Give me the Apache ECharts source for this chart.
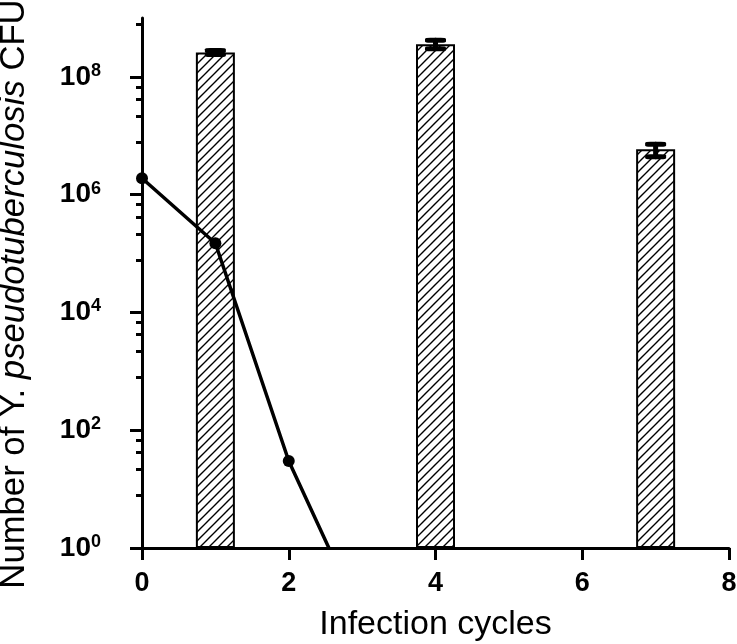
<!DOCTYPE html>
<html lang="en">
<head>
	<meta charset="UTF-8">
	<title>Infection cycles</title>
	<style>
		html, body { margin: 0; padding: 0; background: #fff; }
		#main { width: 737px; height: 644px; }
	</style>
</head>
<body>
	<div id="main"></div>

<script src="https://cdnjs.cloudflare.com/ajax/libs/echarts/6.0.0/echarts.min.js"></script>
<script>
	// bars: CFU recovered per cycle (mean, error range)
	var barCycles = [1, 4, 7];
	var barValues = [2.6e8, 3.6e8, 5.9e6];
	var barErrLow = [2.4e8, 3.0e8, 4.4e6];
	var barErrHigh = [2.8e8, 4.2e8, 7.2e6];

	// line: survivors, last point falls below the axis
	var lineCycles = [0, 1, 2, 3];
	var lineValues = [1.9e6, 1.5e5, 30, 0.06];

	var yMajorTicks = [1, 1e2, 1e4, 1e6, 1e8];
	var yMinorTicks = [
		7.8, 21.6, 42, 67.6,
		780, 2160, 4200, 6760,
		7.8e4, 2.16e5, 4.2e5, 6.76e5,
		7.8e6, 2.16e7, 4.2e7, 6.76e7,
		7.8e8
	];

	var font = '"Liberation Sans", Arial, sans-serif';
	var narrow = '"Liberation Sans Narrow", "Arial Narrow", "Liberation Sans", sans-serif';

	// diagonal hatch for the bars
	function hatch() {
		var c = document.createElement('canvas');
		c.width = 9; c.height = 9;
		var ctx = c.getContext('2d');
		ctx.fillStyle = '#fff';
		ctx.fillRect(0, 0, 9, 9);
		ctx.strokeStyle = '#000';
		ctx.lineWidth = 1.4;
		ctx.beginPath();
		ctx.moveTo(-1, 10); ctx.lineTo(10, -1);
		ctx.moveTo(-1, 1); ctx.lineTo(1, -1);
		ctx.moveTo(8, 10); ctx.lineTo(10, 8);
		ctx.stroke();
		return c;
	}

	function logAxis(extra) {
		var a = {
			type: 'log', logBase: 10, min: 1, max: 1e9, position: 'left', offset: 0,
			axisLine: { show: false, onZero: false },
			axisLabel: { show: false },
			splitLine: { show: false }
		};
		for (var k in extra) a[k] = extra[k];
		return a;
	}

	// error bars: a stem per bar plus caps at both ends
	var stems = barCycles.map(function (c, i) {
		return {
			type: 'line',
			data: [[c, barErrLow[i]], [c, barErrHigh[i]]],
			symbol: 'none',
			lineStyle: { color: '#000', width: 5, cap: 'round' },
			z: 3
		};
	});
	var caps = {
		type: 'scatter',
		data: barCycles.map(function (c, i) { return [c, barErrLow[i]]; })
			.concat(barCycles.map(function (c, i) { return [c, barErrHigh[i]]; })),
		symbol: 'roundRect',
		symbolSize: [21, 5],
		itemStyle: { color: '#000', opacity: 1 },
		z: 3
	};

	var myChart = echarts.init(document.getElementById('main'));

	var option = {
		animation: false,
		backgroundColor: '#fff',
		grid: { left: 142, right: 8, top: 18, bottom: 96, outerBoundsMode: 'none' },
		xAxis: {
			type: 'value',
			min: 0, max: 8, interval: 2,
			name: 'Infection cycles',
			nameLocation: 'middle',
			nameGap: 60,
			nameTextStyle: { fontFamily: font, fontSize: 34, color: '#000' },
			axisLine: { onZero: false, lineStyle: { color: '#000', width: 3 } },
			axisTick: { show: true, length: 12, lineStyle: { color: '#000', width: 3 } },
			axisLabel: { margin: 22, color: '#000', fontFamily: font, fontSize: 27, fontWeight: 'bold' },
			splitLine: { show: false }
		},
		yAxis: [{
			type: 'log',
			logBase: 10,
			min: 1, max: 1e9,
			position: 'left',
			name: '{n|Number of Y. }{i|pseudotuberculosis}{n| CFU}',
			nameLocation: 'middle',
			nameGap: 110,
			nameTextStyle: {
				color: '#000', fontFamily: font, fontSize: 34.7, padding: [0, 22, 0, 0],
				rich: {
					n: { fontFamily: font, fontSize: 34.7, color: '#000' },
					i: { fontFamily: font, fontSize: 34.7, fontStyle: 'italic', color: '#000' }
				}
			},
			axisLine: { show: true, onZero: false, lineStyle: { color: '#000', width: 3 } },
			axisTick: { show: true, length: 12, customValues: yMajorTicks, lineStyle: { color: '#000', width: 3 } },
			axisLabel: {
				margin: 41,
				customValues: yMajorTicks,
				formatter: function (v) {
					var e = Math.round(Math.log(v) / Math.LN10);
					return '{b|10}{s|' + e + '}';
				},
				rich: {
					b: { fontFamily: narrow, fontSize: 28, fontWeight: 'bold', color: '#000', lineHeight: 30 },
					s: { fontFamily: narrow, fontSize: 18, fontWeight: 'bold', color: '#000', verticalAlign: 'top' }
				}
			},
			splitLine: { show: false }
		},
		logAxis({ axisTick: { show: true, length: 12, lineStyle: { color: 'rgba(0,0,0,0)', width: 1 } } }),
		logAxis({ axisTick: { show: true, length: 6, customValues: yMinorTicks, lineStyle: { color: '#000', width: 3 } } })
		],
		series: [{
			type: 'bar',
			barWidth: 39,
			data: barCycles.map(function (c, i) { return [c, barValues[i]]; }),
			itemStyle: {
				color: { image: hatch(), repeat: 'repeat' },
				borderColor: '#000',
				borderWidth: 2
			},
			z: 2
		}].concat(stems, [caps, {
			type: 'line',
			data: lineCycles.map(function (c, i) { return [c, lineValues[i]]; }),
			symbol: 'circle',
			symbolSize: 12,
			lineStyle: { color: '#000', width: 3.5 },
			itemStyle: { color: '#000' },
			z: 4
		}])
	};
	myChart.setOption(option);
</script>
</body>
</html>
